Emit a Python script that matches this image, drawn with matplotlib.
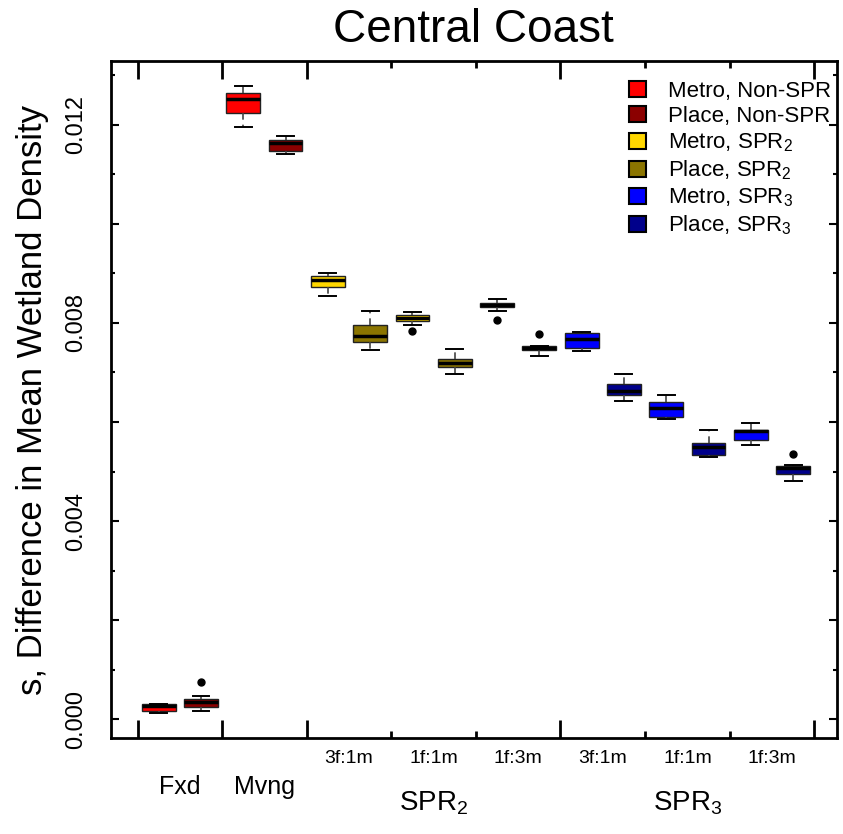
import matplotlib
matplotlib.use('Agg')
import matplotlib.pyplot as plt
from matplotlib.patches import Patch
from matplotlib.ticker import MultipleLocator, FixedLocator, FuncFormatter

plt.rcParams['font.family'] = ['Liberation Sans', 'DejaVu Sans']
plt.rcParams['mathtext.fontset'] = 'custom'
plt.rcParams['mathtext.rm'] = 'Liberation Sans'
plt.rcParams['mathtext.it'] = 'Liberation Sans:italic'

# box statistics (units of 0.001), one entry per box, left to right
whislo = [0.13, 0.17, 11.95, 11.40, 8.55, 7.45, 7.95, 6.96, 8.24, 7.34, 7.43, 6.43, 6.06, 5.30, 5.54, 4.81]
q1     = [0.17, 0.24, 12.23, 11.48, 8.72, 7.61, 8.03, 7.11, 8.32, 7.45, 7.49, 6.55, 6.11, 5.33, 5.63, 4.96]
med    = [0.27, 0.34, 12.51, 11.63, 8.86, 7.74, 8.10, 7.19, 8.36, 7.50, 7.67, 6.62, 6.28, 5.49, 5.81, 5.07]
q3     = [0.30, 0.42, 12.65, 11.70, 8.95, 7.95, 8.16, 7.27, 8.40, 7.54, 7.80, 6.76, 6.40, 5.58, 5.83, 5.11]
whishi = [0.31, 0.48, 12.78, 11.78, 9.00, 8.24, 8.22, 7.48, 8.49, 7.54, 7.82, 6.96, 6.55, 5.83, 5.99, 5.14]
fliers = [[], [0.75], [], [], [], [], [7.83], [], [8.05], [7.77], [], [], [], [], [], [5.36]]

series = ['Metro, Non-SPR', 'Place, Non-SPR', 'Metro, SPR$_2$', 'Place, SPR$_2$',
          'Metro, SPR$_3$', 'Place, SPR$_3$']
colors = ['#FF0000', '#8B0000', '#FFD700', '#8B7500', '#0000FF', '#00008B']
box_series = [0, 1, 0, 1, 2, 3, 2, 3, 2, 3, 4, 5, 4, 5, 4, 5]

group_labels = ['3f:1m', '1f:1m', '1f:3m', '3f:1m', '1f:1m', '1f:3m']
model_labels = ['Fxd', 'Mvng']
spr_labels = ['SPR$_2$', 'SPR$_3$']
ytick_vals = [0.000, 0.004, 0.008, 0.012]

stats = []
for i in range(len(med)):
    stats.append({'whislo': whislo[i] / 1000, 'q1': q1[i] / 1000, 'med': med[i] / 1000,
                  'q3': q3[i] / 1000, 'whishi': whishi[i] / 1000,
                  'fliers': [f / 1000 for f in fliers[i]]})
positions = list(range(1, len(med) + 1))

fig = plt.figure(figsize=(8.43, 8.34), dpi=100)
ax = fig.add_axes([0.1313, 0.1151, 0.8612, 0.8112])

bp = ax.bxp(stats, positions=positions, widths=0.8, patch_artist=True,
            boxprops=dict(edgecolor='#222222', linewidth=1.0),
            whiskerprops=dict(color='#444444', linestyle=(0, (4, 3)), linewidth=1.2),
            capprops=dict(color='black', linewidth=1.4),
            medianprops=dict(color='black', linewidth=2.5),
            flierprops=dict(marker='o', markerfacecolor='black', markeredgecolor='black',
                            markersize=5), capwidths=0.4)
for patch, s in zip(bp['boxes'], box_series):
    patch.set_facecolor(colors[s])

ax.set_xlim(-0.135, 17.03)
ax.set_ylim(-0.000377, 0.013277)

# x ticks: group boundaries
ax.xaxis.set_major_locator(FixedLocator([0.5, 2.5, 4.5, 10.5, 16.5]))
ax.xaxis.set_minor_locator(FixedLocator([6.5, 8.5, 12.5, 14.5]))
ax.xaxis.set_major_formatter(FuncFormatter(lambda v, p: ''))
ax.tick_params(axis='x', which='major', direction='in', length=13, width=2, top=True)
ax.tick_params(axis='x', which='minor', direction='in', length=5, width=2, top=True)

ax.yaxis.set_major_locator(MultipleLocator(0.002))
ax.yaxis.set_minor_locator(MultipleLocator(0.001))
ax.yaxis.set_major_formatter(FuncFormatter(lambda v, p: ''))
ax.tick_params(axis='y', which='major', direction='in', length=6, width=1.5, right=True)
ax.tick_params(axis='y', which='minor', direction='in', length=3, width=1.5, right=True)

# y tick labels, rotated like the original
yt = ax.get_yaxis_transform()
for v in ytick_vals:
    ax.text(-0.048, v, f'{v:.3f}', transform=yt, rotation=90, ha='center', va='center',
            fontsize=17)

for sp in ax.spines.values():
    sp.set_linewidth(2)

# category labels under the axis
xt = ax.get_xaxis_transform()
for k, lab in enumerate(model_labels):
    ax.text(1.5 + 2 * k, -0.072, lab, transform=xt, ha='center', va='center', fontsize=18)
for k, lab in enumerate(group_labels):
    ax.text(5.5 + 2 * k, -0.03, lab, transform=xt, ha='center', va='center', fontsize=14)
for k, lab in enumerate(spr_labels):
    ax.text(7.5 + 6 * k, -0.096, lab, transform=xt, ha='center', va='center', fontsize=20)

ax.set_ylabel('s, Difference in Mean Wetland Density', fontsize=25)
ax.yaxis.set_label_coords(-0.085, 0.5)
ax.set_title('Central Coast', fontsize=33, pad=14)

handles = [Patch(facecolor=c, edgecolor='black', linewidth=1.5) for c in colors]
ax.legend(handles, series, loc='upper right', bbox_to_anchor=(1.005, 0.985), frameon=False,
          fontsize=16, handlelength=0.75, handleheight=0.75, handletextpad=1.0,
          labelspacing=0.2, borderaxespad=0.0)

fig.savefig('out.png', dpi=100)
